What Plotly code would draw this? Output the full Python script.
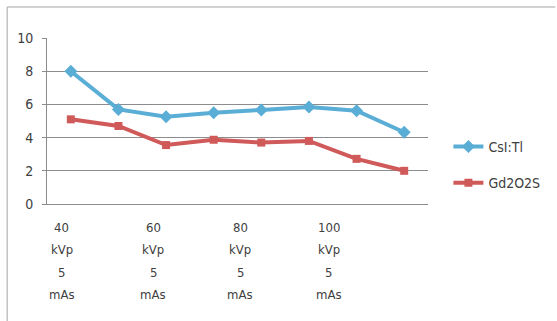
import plotly.graph_objects as go

categories = ["40 kVp 5 mAs", "50 kVp 5 mAs", "60 kVp 5 mAs", "70 kVp 5 mAs",
              "80 kVp 5 mAs", "90 kVp 5 mAs", "100 kVp 5 mAs", "110 kVp 5 mAs"]
csi_tl = [8.0, 5.7, 5.25, 5.5, 5.67, 5.85, 5.62, 4.32]
gd2o2s = [5.1, 4.7, 3.55, 3.87, 3.7, 3.8, 2.72, 2.0]
series_names = ["CsI:Tl", "Gd2O2S"]
label_idx = [0, 2, 4, 6]
label_lines = [["40", "kVp", "5", "mAs"], ["60", "kVp", "5", "mAs"],
               ["80", "kVp", "5", "mAs"], ["100", "kVp", "5", "mAs"]]
y_ticks = [0, 2, 4, 6, 8, 10]

W, H = 557, 321
L, R, T, B = 47, 118, 38, 117
pw, ph = W - L - R, H - T - B

font = "Liberation Sans Narrow, DejaVu Sans Condensed, Arial Narrow, sans-serif"
txt_col = "#404040"
x = list(range(len(categories)))

fig = go.Figure()
fig.add_trace(go.Scatter(x=x, y=csi_tl, name=series_names[0], mode="lines+markers",
                         line=dict(color="#5AAED6", width=4),
                         marker=dict(symbol="diamond", size=10, color="#5AAED6"),
                         legendgroup="a"))
fig.add_trace(go.Scatter(x=x, y=gd2o2s, name=series_names[1], mode="lines+markers",
                         line=dict(color="#D05A5A", width=4),
                         marker=dict(symbol="square", size=8, color="#D05A5A"),
                         legendgroup="b"))

def px2paper_x(px):
    return (px - L) / pw

def px2paper_y(py):
    return (H - B - py) / ph

shapes = [
    dict(type="line", xref="paper", yref="paper", x0=px2paper_x(6), x1=px2paper_x(6),
         y0=px2paper_y(7), y1=px2paper_y(330), line=dict(color="#A6A6A6", width=1)),
    dict(type="line", xref="paper", yref="paper", x0=px2paper_x(6), x1=px2paper_x(570),
         y0=px2paper_y(7), y1=px2paper_y(7), line=dict(color="#A6A6A6", width=1)),
]

xshifts = [-9, -13, -21, -28]
annotations = []
for k, (ci, lines) in enumerate(zip(label_idx, label_lines)):
    for j, t in enumerate(lines):
        annotations.append(dict(x=ci, y=0, xref="x", yref="paper", text=t,
                                showarrow=False, xanchor="center", yanchor="middle",
                                yshift=-(23 + 22.5 * j), xshift=xshifts[k],
                                font=dict(family=font, size=13, color=txt_col)))

fig.update_layout(
    width=W, height=H,
    margin=dict(l=L, r=R, t=T, b=B),
    paper_bgcolor="white", plot_bgcolor="white",
    showlegend=True,
    legend=dict(x=px2paper_x(460), y=px2paper_y(131), xanchor="left", yanchor="top",
                font=dict(family=font, size=14, color=txt_col),
                tracegroupgap=15, itemwidth=30, traceorder="grouped"),
    shapes=shapes,
    annotations=annotations,
)
fig.update_xaxes(range=[-0.5, len(categories) - 0.5], showgrid=False, zeroline=False,
                 showline=True, linecolor="#8C8C8C", linewidth=1,
                 showticklabels=False, ticks="", fixedrange=True)
fig.update_yaxes(range=[0, 10], tickvals=y_ticks, showgrid=True, gridcolor="#8C8C8C",
                 gridwidth=1, zeroline=False, showline=True, linecolor="#8C8C8C",
                 linewidth=1, ticks="outside", ticklen=4, tickcolor="#8C8C8C",
                 ticklabelstandoff=6, fixedrange=True,
                 tickfont=dict(family=font, size=14, color=txt_col))

fig.write_html("out.html", config={"displayModeBar": False},
               post_script="document.body.style.margin='0';document.body.style.overflow='hidden';")
